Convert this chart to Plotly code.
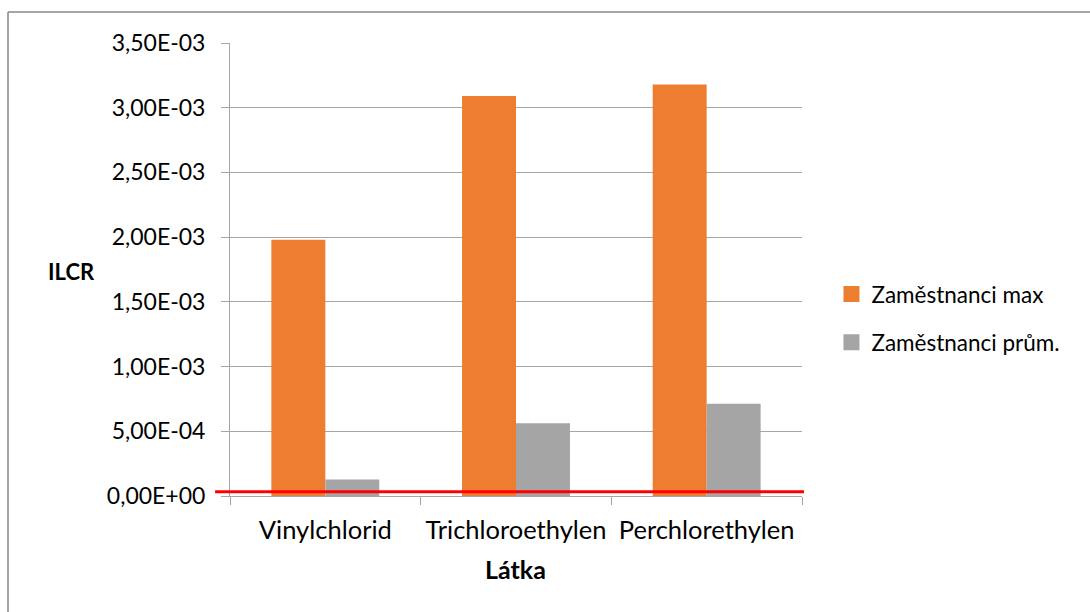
import plotly.graph_objects as go

# Incremental lifetime cancer risk per substance
latky = ["Vinylchlorid", "Trichloroethylen", "Perchlorethylen"]
ilcr_max = [1.98e-3, 3.09e-3, 3.18e-3]
ilcr_prum = [1.28e-4, 5.63e-4, 7.12e-4]
serie_nazvy = ["Zaměstnanci max", "Zaměstnanci prům."]

y_tick_vals = [0, 0.5e-3, 1.0e-3, 1.5e-3, 2.0e-3, 2.5e-3, 3.0e-3, 3.5e-3]
y_tick_text = ["0,00E+00", "5,00E-04", "1,00E-03", "1,50E-03",
               "2,00E-03", "2,50E-03", "3,00E-03", "3,50E-03"]

ORANGE = "#ED7D31"
GRAY = "#A5A5A5"
AXIS_GRAY = "#A6A6A6"
FONT = "Lato"

fig = go.Figure()
fig.add_trace(go.Bar(x=latky, y=ilcr_max, name=serie_nazvy[0],
                     marker=dict(color=ORANGE, line=dict(width=0)),
                     showlegend=False))
fig.add_trace(go.Bar(x=latky, y=ilcr_prum, name=serie_nazvy[1],
                     marker=dict(color=GRAY, line=dict(width=0)),
                     showlegend=False))

# legend entries with larger square swatches
for nazev, barva in zip(serie_nazvy, [ORANGE, GRAY]):
    fig.add_trace(go.Scatter(x=[None], y=[None], mode="markers", name=nazev,
                             legendgroup=nazev,
                             marker=dict(symbol="square", size=17, color=barva)))

fig.update_layout(
    width=1090, height=612,
    margin=dict(l=230, r=288, t=43, b=116, autoexpand=False),
    paper_bgcolor="white", plot_bgcolor="white",
    barmode="group", bargap=0.434, bargroupgap=0,
    font=dict(family=FONT, size=22, color="#000000"),
    legend=dict(x=1.0515, y=0.392, xanchor="left", yanchor="middle",
                font=dict(size=22.5), tracegroupgap=16,
                bgcolor="rgba(0,0,0,0)"),
    xaxis=dict(
        type="category", showgrid=False,
        showline=True, linecolor=AXIS_GRAY, linewidth=1,
        ticks="outside", tickson="boundaries", ticklen=8,
        tickcolor=AXIS_GRAY, tickfont=dict(size=25.5),
        ticklabelstandoff=11,
    ),
    yaxis=dict(
        range=[0, 3.5e-3], tickvals=y_tick_vals, ticktext=y_tick_text,
        showgrid=True, gridcolor=AXIS_GRAY, gridwidth=1,
        showline=True, linecolor=AXIS_GRAY, linewidth=1,
        ticks="outside", ticklen=8, tickcolor=AXIS_GRAY,
        tickfont=dict(size=23), ticklabelstandoff=11,
        zeroline=False,
    ),
    annotations=[
        dict(text="<b>ILCR</b>", xref="paper", yref="paper",
             x=-0.322, y=0.495, xanchor="left", yanchor="middle",
             showarrow=False, font=dict(size=22)),
        dict(text="<b>Látka</b>", xref="paper", yref="paper",
             x=0.499, y=-0.162, xanchor="center", yanchor="middle",
             showarrow=False, font=dict(size=25)),
    ],
    shapes=[
        # red reference line just above the baseline
        dict(type="line", xref="paper", yref="y", x0=-0.026, x1=1.0035,
             y0=3.2e-5, y1=3.2e-5, line=dict(color="#FF0000", width=3)),
        # chart frame (top and left edges)
        dict(type="line", xref="paper", yref="paper",
             x0=(8 - 230) / 572, x1=(1090 - 230) / 572,
             y0=(612 - 116 - 12) / 453, y1=(612 - 116 - 12) / 453,
             line=dict(color="#878787", width=1.5)),
        dict(type="line", xref="paper", yref="paper",
             x0=(8 - 230) / 572, x1=(8 - 230) / 572,
             y0=(612 - 116 - 12) / 453, y1=-116 / 453,
             line=dict(color="#878787", width=1.5)),
    ],
)

fig.write_html("out.html")
